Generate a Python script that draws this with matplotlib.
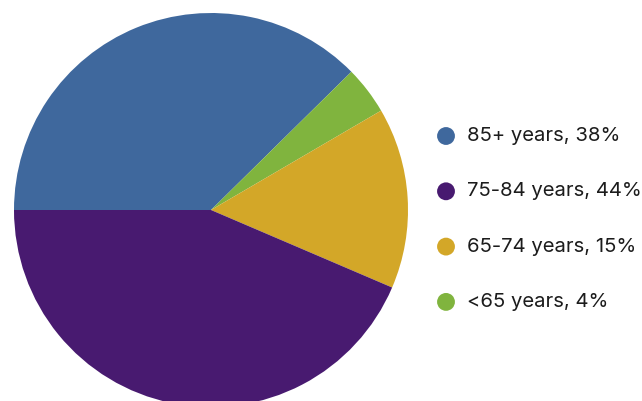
import matplotlib.pyplot as plt

# age groups in the order they appear around the pie (clockwise from the left)
wedge_labels = ["85+ years", "<65 years", "65-74 years", "75-84 years"]
wedge_shares = [38, 4, 15, 44]
wedge_colors = ["#3F689D", "#80B43E", "#D3A728", "#481A70"]

# legend order
legend_labels = ["85+ years", "75-84 years", "65-74 years", "<65 years"]
legend_shares = [38, 44, 15, 4]
legend_colors = ["#3F689D", "#481A70", "#D3A728", "#80B43E"]

W, H = 642, 401
fig = plt.figure(figsize=(W / 100, H / 100), dpi=100)
ax = fig.add_axes([0, 0, 1, 1])
ax.set_xlim(0, W)
ax.set_ylim(0, H)
ax.set_aspect("equal")
ax.axis("off")

ax.pie(wedge_shares, colors=wedge_colors, startangle=180, counterclock=False,
       center=(211, H - 210), radius=197, normalize=True,
       wedgeprops=dict(linewidth=0, antialiased=True))

ax.set_xlim(0, W)
ax.set_ylim(0, H)

for i, (lab, share, col) in enumerate(zip(legend_labels, legend_shares, legend_colors)):
    y = H - (136 + i * 55.3)
    ax.scatter(446, y, s=165, color=col, edgecolors="none", clip_on=False)
    ax.text(467, y, f"{lab}, {share}%", fontsize=14.6, family="Inter",
            color="#1c1c1c", va="center", ha="left")

plt.savefig("out.png", dpi=100)
